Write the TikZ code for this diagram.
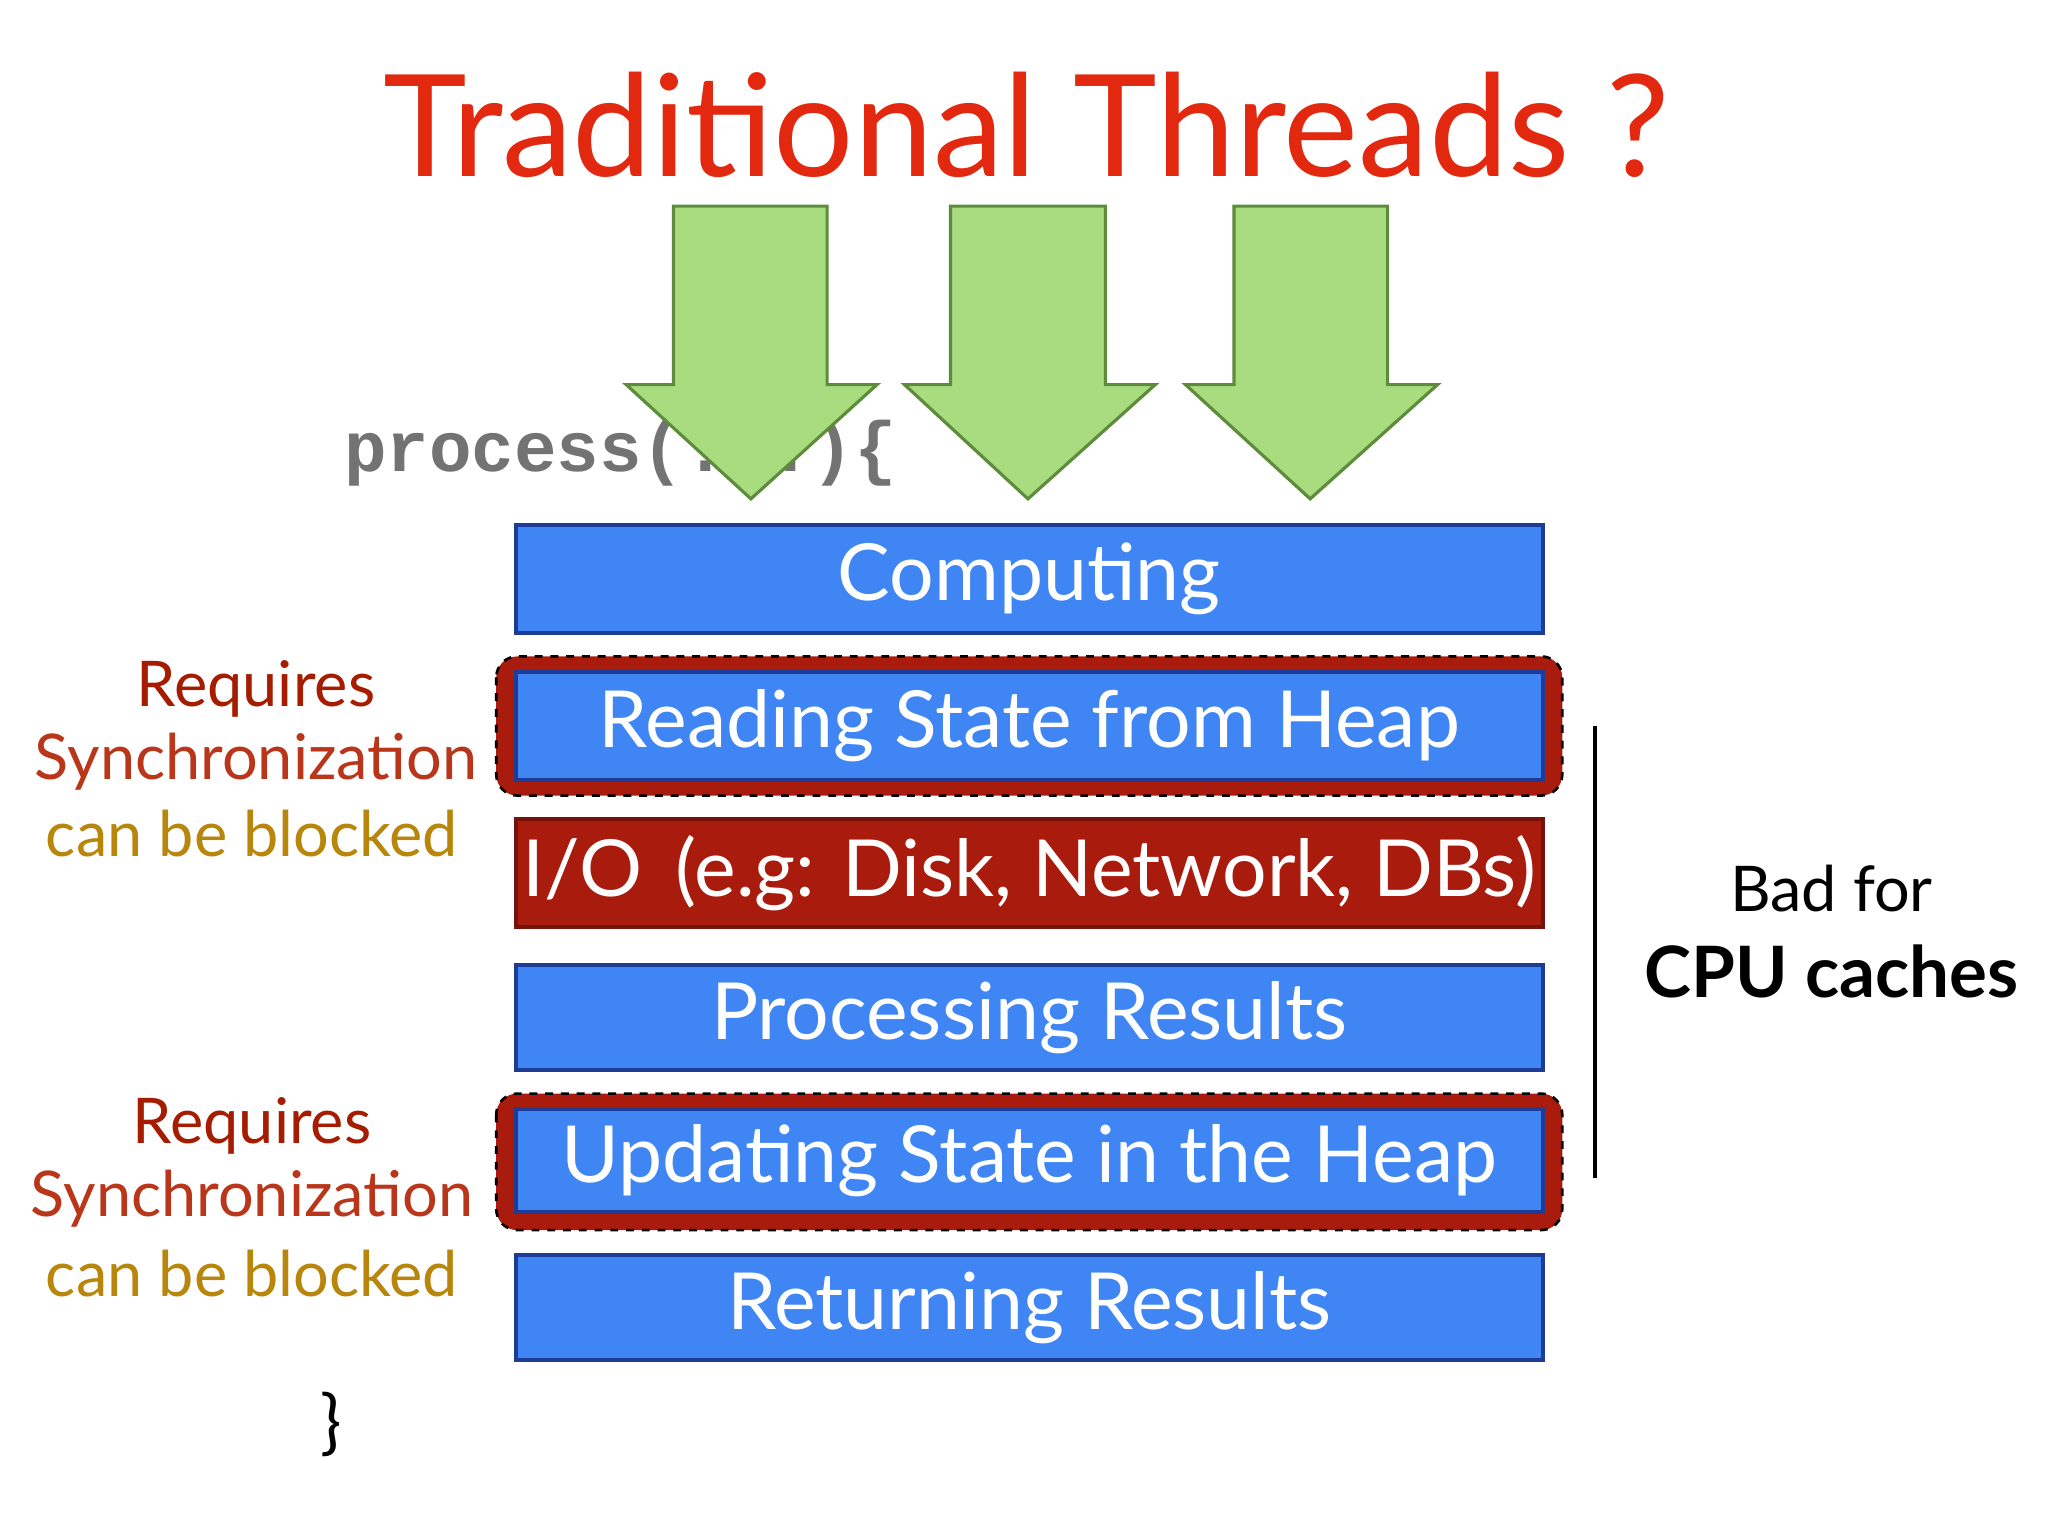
\documentclass[tikz,border=0pt]{standalone}
\usepackage{fontspec}
\setmainfont{Lato}
\newfontfamily\codefont{Liberation Mono}
\definecolor{boxblue}{HTML}{3F86F4}
\definecolor{boxedge}{HTML}{1D3C96}
\definecolor{iored}{HTML}{A91B0D}
\definecolor{titlered}{HTML}{E2280F}
\definecolor{arrgreen}{HTML}{A9DB7F}
\definecolor{arredge}{HTML}{5E8C3C}
\definecolor{reqred}{HTML}{A61C00}
\definecolor{syncred}{HTML}{B9361A}
\definecolor{gold}{HTML}{B8860B}
\begin{document}
\begin{tikzpicture}[x=0.5pt,y=-0.5pt,
  stepbox/.style={draw=boxedge,line width=1.5pt,fill=boxblue,text=white,font=\fontsize{30}{34}\selectfont,inner sep=0pt},
  iobox/.style={stepbox,fill=iored,draw=iored!70!black},
  syncframe/.style={draw=black,dashed,line width=1pt,fill=iored,rounded corners=8pt},
  thr/.style={draw=arredge,line width=1.2pt,fill=arrgreen},
  lab/.style={font=\fontsize{24}{27}\selectfont,align=center}]
\useasboundingbox (0,0) rectangle (1560,1170);
\fill[white] (0,0) rectangle (1560,1170);
\node[text=titlered,font=\fontsize{54}{60}\selectfont] (title) at (782,95) {Traditional Threads ?};
\node[text=black!55,font=\codefont\bfseries\fontsize{27}{30}\selectfont,anchor=west] (proc) at (255,345) {process(...)\{};
\foreach \a/\b/\c/\d/\t [count=\i] in {513/630/477/668/572, 724/842/689/880/783, 940/1057/903/1095/998}
  \draw[thr] (\a,157) -- (\b,157) -- (\b,293) -- (\d,293) -- (\t,380) -- (\c,293) -- (\a,293) -- cycle;
\draw[syncframe] (378,500) rectangle (1190,606);
\draw[syncframe] (378,833) rectangle (1190,937);
\node[stepbox,minimum width=391pt,minimum height=41pt] (comp) at (784,441) {Computing};
\node[stepbox,minimum width=391pt,minimum height=41pt] (read) at (784,553) {Reading State from Heap};
\node[iobox,minimum width=391pt,minimum height=41pt] (io) at (784,665) {I/O\, (e.g: Disk, Network, DBs)};
\node[stepbox,minimum width=391pt,minimum height=40pt] (procres) at (784,775) {Processing Results};
\node[stepbox,minimum width=391pt,minimum height=39pt] (upd) at (784,884) {Updating State in the Heap};
\node[stepbox,minimum width=391pt,minimum height=40pt] (ret) at (784,996) {Returning Results};
\node[lab,text=reqred] (r1) at (195,525) {Requires};
\node[lab,text=syncred] (s1) at (195,580) {Synchronization};
\node[lab,text=gold] (b1) at (192,635) {can be blocked};
\node[lab,text=reqred] (r2) at (192,858) {Requires};
\node[lab,text=syncred] (s2) at (192,913) {Synchronization};
\node[lab,text=gold] (b2) at (192,970) {can be blocked};
\node[font=\fontsize{27}{30}\selectfont] (close) at (252,1085) {\}};
\coordinate (lt) at (1215,553);
\coordinate (lb) at (1215,897);
\draw[line width=1.5pt] (lt) -- (lb);
\node[font=\fontsize{24}{27}\selectfont] (bad) at (1395,677) {Bad for};
\node[font=\bfseries\fontsize{27}{30}\selectfont] (cpu) at (1395,740) {CPU caches};
\end{tikzpicture}
\end{document}
